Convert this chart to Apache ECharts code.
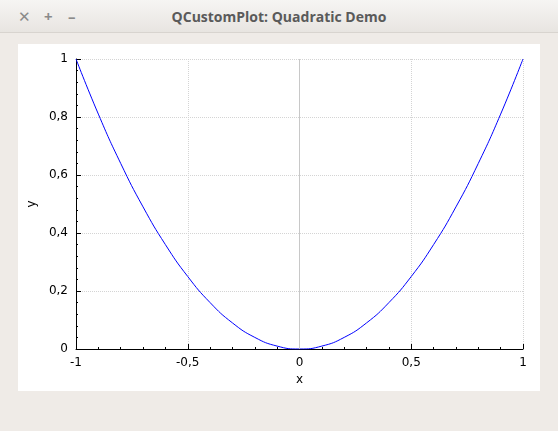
<!DOCTYPE html>
<html><head><meta charset="utf-8">
<script src="https://cdn.jsdelivr.net/npm/echarts@6/dist/echarts.min.js"></script>
<style>
html,body{margin:0;padding:0;width:558px;height:431px;overflow:hidden;background:#efebe7;font-family:"Open Sans","DejaVu Sans",sans-serif}
#title{position:absolute;left:0;top:0;width:558px;height:32px;background:linear-gradient(#f6f5f3,#e8e5e1);border-bottom:1px solid #d8d4cf}
#title .t{position:absolute;left:0;right:0;top:7px;text-align:center;font-size:14px;font-weight:bold;color:#5a5a5a}
#title .b{position:absolute;top:6px;font-size:15px;color:#8a8a8a;font-weight:bold}
#panel{position:absolute;left:18px;top:44px;width:522px;height:347px;background:#fff}
#chart{position:absolute;left:0;top:0;width:558px;height:431px}
</style></head><body>
<div id="title"><span class="b" style="left:18px">✕</span><span class="b" style="left:44px">+</span><span class="b" style="left:68px">–</span><div class="t">QCustomPlot: Quadratic Demo</div></div>
<div id="panel"></div>
<div id="chart"></div>
<script>
const xs = [-1,-0.9,-0.8,-0.7,-0.6,-0.5,-0.4,-0.3,-0.2,-0.1,0,0.1,0.2,0.3,0.4,0.5,0.6,0.7,0.8,0.9,1];
const ys = [1,0.81,0.64,0.49,0.36,0.25,0.16,0.09,0.04,0.01,0,0.01,0.04,0.09,0.16,0.25,0.36,0.49,0.64,0.81,1];
const fmt = v => String(Math.round(v*10)/10).replace('.', ',');
const chart = echarts.init(document.getElementById('chart'));
const axisCommon = {
  axisLine:{show:true,onZero:false,lineStyle:{color:'#000'}},
  axisTick:{show:true,inside:true,length:5,lineStyle:{color:'#000'}},
  minorTick:{show:true,splitNumber:5,length:2,lineStyle:{color:'#000'}},
  splitLine:{show:true,lineStyle:{color:'#d4d4d4',type:'dotted'}},
  axisLabel:{color:'#000',fontSize:12,formatter:fmt,fontFamily:'DejaVu Sans'},
  nameTextStyle:{color:'#000',fontSize:12,fontFamily:'DejaVu Sans'}
};
chart.setOption({
  animation:false,
  grid:{left:76,right:35,top:59,bottom:82},
  xAxis:Object.assign({type:'value',min:-1,max:1,interval:0.5,name:'x',nameLocation:'middle',nameGap:20},axisCommon),
  yAxis:Object.assign({type:'value',min:0,max:1,interval:0.2,name:'y',nameLocation:'middle',nameGap:36},axisCommon),
  series:[{type:'line',data:xs.map((x,i)=>[x,ys[i]]),smooth:true,showSymbol:false,
    lineStyle:{color:'#0000ff',width:1},
    markLine:{silent:true,symbol:'none',label:{show:false},lineStyle:{color:'#c8c8c8',type:'solid',width:1},data:[{xAxis:0}]}}]
});
</script></body></html>
